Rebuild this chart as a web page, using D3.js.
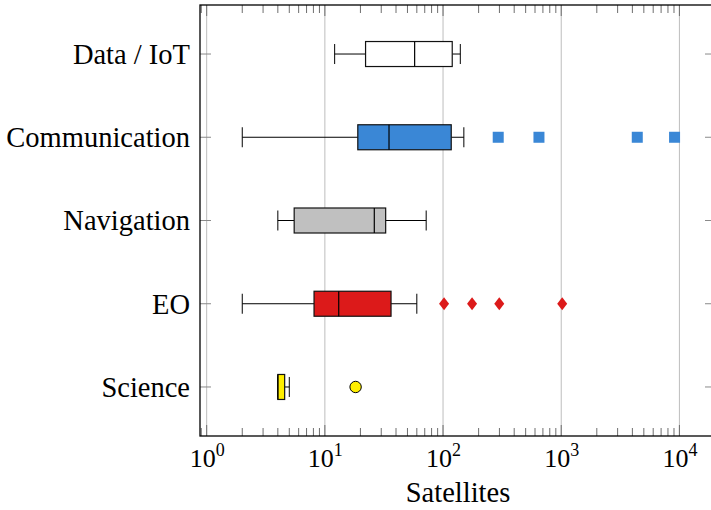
<!DOCTYPE html>
<html>
<head>
<meta charset="utf-8">
<script src="https://cdn.jsdelivr.net/npm/d3@7"></script>
<style>
  body { margin: 0; background: #fff; }
  text { font-family: "Liberation Serif", "DejaVu Serif", serif; fill: #000; }
</style>
</head>
<body>
<script>
// boxplot statistics (satellites per mission, log scale)
var categories = ["Data / IoT", "Communication", "Navigation", "EO", "Science"];
var lowWhisker = [12.1, 2.0, 4.0, 2.0, 4.0];
var lowerQuartile = [22.1, 19.0, 5.5, 8.1, 4.0];
var medians = [57.5, 34.9, 26.2, 13.1, 4.0];
var upperQuartile = [119.6, 117.3, 32.7, 36.3, 4.57];
var highWhisker = [140, 150, 72, 60, 5.0];
var outliers = [[], [293, 648, 4400, 9100], [], [102, 176, 299, 1019], [18.2]];
var boxColors = ["#ffffff", "#3a87d6", "#c0c0c0", "#dc1a1a", "#ffee00"];
var markerShapes = ["none", "square", "none", "diamond", "circle"];
var tickExponents = [0, 1, 2, 3, 4];

var margin = {top: 5, left: 200, right: 716, bottom: 436};

var svg = d3.select("body").append("svg")
  .attr("width", 711)
  .attr("height", 510);

var x = d3.scaleLog()
  .domain([0.878, 20400])
  .range([margin.left, margin.right]);

var y = d3.scalePoint()
  .domain(categories)
  .range([margin.top, margin.bottom])
  .padding(0.589);

var majorTicks = tickExponents.map(function (e) { return Math.pow(10, e); });
var minorTicks = [0.9];
tickExponents.forEach(function (e) {
  for (var m = 2; m <= 9; m++) minorTicks.push(m * Math.pow(10, e));
});
minorTicks = minorTicks.filter(function (v) { return v > 0.878 && v < 20400; });

// grid
svg.append("g").selectAll("line")
  .data(majorTicks)
  .enter().append("line")
  .attr("x1", function (d) { return x(d); })
  .attr("x2", function (d) { return x(d); })
  .attr("y1", margin.top)
  .attr("y2", margin.bottom)
  .attr("stroke", "#bdbdbd")
  .attr("stroke-width", 1);

// minor ticks top and bottom
var tickG = svg.append("g").attr("stroke", "#6e6e6e").attr("stroke-width", 1);
tickG.selectAll(".mb")
  .data(minorTicks)
  .enter().append("line")
  .attr("x1", function (d) { return x(d); })
  .attr("x2", function (d) { return x(d); })
  .attr("y1", margin.bottom)
  .attr("y2", margin.bottom - 8);
tickG.selectAll(".mt")
  .data(minorTicks)
  .enter().append("line")
  .attr("x1", function (d) { return x(d); })
  .attr("x2", function (d) { return x(d); })
  .attr("y1", margin.top)
  .attr("y2", margin.top + 8);
tickG.selectAll(".Mb")
  .data(majorTicks)
  .enter().append("line")
  .attr("x1", function (d) { return x(d); })
  .attr("x2", function (d) { return x(d); })
  .attr("y1", margin.bottom)
  .attr("y2", margin.bottom - 11);
tickG.selectAll(".Mt")
  .data(majorTicks)
  .enter().append("line")
  .attr("x1", function (d) { return x(d); })
  .attr("x2", function (d) { return x(d); })
  .attr("y1", margin.top)
  .attr("y2", margin.top + 11);

// category ticks left and right
tickG.selectAll(".yl")
  .data(categories)
  .enter().append("line")
  .attr("x1", margin.left)
  .attr("x2", margin.left + 11)
  .attr("y1", function (d) { return y(d); })
  .attr("y2", function (d) { return y(d); })
  .attr("stroke", "#8a8a8a");
tickG.selectAll(".yr")
  .data(categories)
  .enter().append("line")
  .attr("x1", margin.right)
  .attr("x2", margin.right - 11)
  .attr("y1", function (d) { return y(d); })
  .attr("y2", function (d) { return y(d); })
  .attr("stroke", "#8a8a8a");

// x axis labels
var xAxis = d3.axisBottom(x).tickValues(majorTicks).tickSize(0).tickFormat("");
var xg = svg.append("g")
  .attr("transform", "translate(0," + margin.bottom + ")")
  .call(xAxis);
xg.select(".domain").remove();
xg.selectAll(".tick text").remove();
xg.selectAll(".tick").append("text")
  .attr("y", 30.5)
  .attr("text-anchor", "middle")
  .attr("font-size", 26)
  .each(function (d, i) {
    var t = d3.select(this);
    t.append("tspan").text("10");
    t.append("tspan").attr("dy", -11).attr("font-size", 18).text(tickExponents[i]);
  });

// y axis labels
var yAxis = d3.axisLeft(y).tickSize(0).tickPadding(10);
var yg = svg.append("g")
  .attr("transform", "translate(" + margin.left + ",0)")
  .call(yAxis);
yg.select(".domain").remove();
yg.selectAll(".tick text")
  .attr("font-size", 28.5)
  .attr("font-family", "Liberation Serif")
  .attr("fill", "#000")
  .attr("dy", "0.33em");

svg.append("text")
  .attr("x", (margin.left + margin.right) / 2)
  .attr("y", 501.5)
  .attr("text-anchor", "middle")
  .attr("font-size", 28.5)
  .text("Satellites");

// boxes
var boxH = 25, capH = 20;
var boxes = svg.append("g").selectAll("g")
  .data(categories)
  .enter().append("g");

boxes.append("line")
  .attr("x1", function (d, i) { return x(lowWhisker[i]); })
  .attr("x2", function (d, i) { return x(lowerQuartile[i]); })
  .attr("y1", function (d) { return y(d); })
  .attr("y2", function (d) { return y(d); })
  .attr("stroke", "#000");
boxes.append("line")
  .attr("x1", function (d, i) { return x(upperQuartile[i]); })
  .attr("x2", function (d, i) { return x(highWhisker[i]); })
  .attr("y1", function (d) { return y(d); })
  .attr("y2", function (d) { return y(d); })
  .attr("stroke", "#000");
boxes.append("line")
  .attr("x1", function (d, i) { return x(lowWhisker[i]); })
  .attr("x2", function (d, i) { return x(lowWhisker[i]); })
  .attr("y1", function (d) { return y(d) - capH / 2; })
  .attr("y2", function (d) { return y(d) + capH / 2; })
  .attr("stroke", "#000");
boxes.append("line")
  .attr("x1", function (d, i) { return x(highWhisker[i]); })
  .attr("x2", function (d, i) { return x(highWhisker[i]); })
  .attr("y1", function (d) { return y(d) - capH / 2; })
  .attr("y2", function (d) { return y(d) + capH / 2; })
  .attr("stroke", "#000");
boxes.append("rect")
  .attr("x", function (d, i) { return x(lowerQuartile[i]); })
  .attr("width", function (d, i) { return x(upperQuartile[i]) - x(lowerQuartile[i]); })
  .attr("y", function (d) { return y(d) - boxH / 2; })
  .attr("height", boxH)
  .attr("fill", function (d, i) { return boxColors[i]; })
  .attr("stroke", "#111")
  .attr("stroke-width", 1.2);
boxes.append("line")
  .attr("x1", function (d, i) { return x(medians[i]); })
  .attr("x2", function (d, i) { return x(medians[i]); })
  .attr("y1", function (d) { return y(d) - boxH / 2; })
  .attr("y2", function (d) { return y(d) + boxH / 2; })
  .attr("stroke", "#000")
  .attr("stroke-width", 1.2);

// outliers
categories.forEach(function (c, i) {
  var g = svg.append("g");
  var pts = g.selectAll("path").data(outliers[i]).enter();
  if (markerShapes[i] === "square") {
    pts.append("rect")
      .attr("x", function (v) { return x(v) - 5.5; })
      .attr("y", y(c) - 5.5)
      .attr("width", 11).attr("height", 11)
      .attr("fill", boxColors[i]);
  } else if (markerShapes[i] === "diamond") {
    pts.append("path")
      .attr("d", function (v) {
        var cx = x(v), cy = y(c);
        return "M" + cx + "," + (cy - 6.5) + "L" + (cx + 5) + "," + cy +
          "L" + cx + "," + (cy + 6.5) + "L" + (cx - 5) + "," + cy + "Z";
      })
      .attr("fill", boxColors[i]);
  } else if (markerShapes[i] === "circle") {
    pts.append("circle")
      .attr("cx", function (v) { return x(v); })
      .attr("cy", y(c))
      .attr("r", 5.7)
      .attr("fill", boxColors[i])
      .attr("stroke", "#000")
      .attr("stroke-width", 1);
  }
});

// frame
svg.append("rect")
  .attr("x", margin.left)
  .attr("y", margin.top)
  .attr("width", margin.right - margin.left)
  .attr("height", margin.bottom - margin.top)
  .attr("fill", "none")
  .attr("stroke", "#000")
  .attr("stroke-width", 1.3);
</script>
</body>
</html>
